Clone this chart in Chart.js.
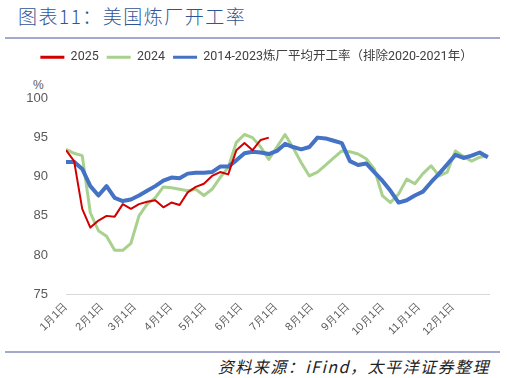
<!DOCTYPE html>
<html>
<head>
<meta charset="utf-8">
<script src="https://cdn.jsdelivr.net/npm/chart.js@4/dist/chart.umd.min.js"></script>
<style>
  html, body { margin: 0; padding: 0; background: #fff; }
  body { width: 507px; height: 378px; position: relative; overflow: hidden; font-family: "Noto Sans CJK SC", "Liberation Sans", sans-serif; }
  #title { position: absolute; left: 18px; top: 2px; font-size: 19px; font-weight: 300; letter-spacing: 1.5px; color: #2F5597; white-space: nowrap; }
  .rule { position: absolute; left: 5px; width: 495px; height: 0; border-top: 2px solid #A3A8CC; }
  #unit { position: absolute; left: 33px; top: 78px; font-size: 12px; color: #595959; font-family: "Liberation Sans", sans-serif; }
  #source { position: absolute; right: 17px; top: 354px; font-size: 16px; font-style: italic; letter-spacing: 1.5px; color: #222; white-space: nowrap; }
  #wrap { position: absolute; left: 0; top: 41px; width: 507px; height: 303px; }
</style>
</head>
<body>
<div id="title">图表11：美国炼厂开工率</div>
<div class="rule" style="top:37px"></div>
<div id="unit">%</div>
<div id="wrap"><canvas id="chart"></canvas></div>
<div class="rule" style="top:351px"></div>
<div id="source">资料来源：iFind，太平洋证券整理</div>

<script>
// weekly points, x = day of year
const weekDays = Array.from({ length: 53 }, (_, i) => i * 7);

const monthStarts = [0, 31, 59, 90, 120, 151, 181, 212, 243, 273, 304, 334];
const monthLabels = ['1月1日', '2月1日', '3月1日', '4月1日', '5月1日', '6月1日',
  '7月1日', '8月1日', '9月1日', '10月1日', '11月1日', '12月1日'];

const rate2025 = [93.4, 92.0, 85.9, 83.5, 84.4, 85.0, 84.9, 86.5, 85.9, 86.5, 86.8, 87.0, 86.1,
  86.7, 86.4, 88.0, 88.7, 89.1, 90.1, 90.6, 90.3, 93.4, 94.3, 93.4, 94.7, 95.0];

const rate2024 = [93.5, 93.0, 92.7, 85.4, 83.1, 82.4, 80.6, 80.6, 81.5, 85.0, 86.5, 87.3, 88.7,
  88.6, 88.4, 88.2, 88.4, 87.6, 88.4, 89.9, 91.2, 94.4, 95.4, 95.0, 93.8, 92.2, 93.8,
  95.4, 93.7, 91.8, 90.1, 90.6, 91.5, 92.4, 93.3, 93.2, 92.9, 92.3, 91.0, 87.6, 86.7,
  87.8, 89.7, 89.1, 90.4, 91.4, 90.1, 90.6, 93.3, 92.6, 92.0, 92.5, 92.7];

const rateAvg = [91.9, 91.9, 91.0, 88.8, 87.6, 88.8, 87.3, 86.9, 87.1, 87.6, 88.2, 88.8, 89.5,
  89.9, 89.8, 90.4, 90.5, 90.5, 90.6, 91.3, 91.3, 92.1, 93.0, 93.2, 93.1, 92.9, 93.3,
  94.2, 93.8, 93.5, 93.8, 95.0, 94.9, 94.6, 94.3, 92.0, 91.5, 91.7, 90.6, 89.5, 88.2,
  86.7, 87.0, 87.6, 88.1, 89.3, 90.4, 91.6, 92.8, 92.4, 92.7, 93.1, 92.5];

const toPoints = arr => arr.map((v, i) => ({ x: weekDays[i], y: v }));

const textColor = '#595959';

// leave room between the legend and the plot for the "%" label
const legendGap = {
  id: 'legendGap',
  beforeInit(chart) {
    const fit = chart.legend.fit;
    chart.legend.fit = function () {
      fit.call(this);
      this.height += 25;
    };
  },
};

new Chart(document.getElementById('chart'), {
  type: 'line',
  data: {
    datasets: [
      { label: '2025', data: toPoints(rate2025), borderColor: '#D00000', borderWidth: 2, order: 1 },
      { label: '2024', data: toPoints(rate2024), borderColor: '#A9D18E', borderWidth: 3, order: 3 },
      { label: '2014-2023炼厂平均开工率（排除2020-2021年）', data: toPoints(rateAvg), borderColor: '#4472C4', borderWidth: 4, order: 2 },
    ],
  },
  options: {
    responsive: true,
    maintainAspectRatio: false,
    animation: false,
    layout: { padding: { left: 24, right: 18, top: 2, bottom: 0 } },
    elements: { point: { radius: 0 }, line: { tension: 0, borderJoinStyle: 'round' } },
    plugins: {
      tooltip: { enabled: false },
      legend: {
        position: 'top',
        labels: {
          color: '#404040',
          font: { size: 12.5, family: 'Roboto, "Noto Sans CJK SC", sans-serif' },
          usePointStyle: true,
          pointStyle: 'line',
          pointStyleWidth: 24,
          padding: 8,
          sort: (a, b) => a.datasetIndex - b.datasetIndex,
          generateLabels: chart => Chart.defaults.plugins.legend.labels.generateLabels(chart)
            .map(l => ({ ...l, lineWidth: 3 })),
        },
      },
    },
    scales: {
      x: {
        type: 'linear',
        min: 0,
        max: 365,
        grid: { display: false, drawTicks: false },
        border: { color: '#D9D9D9', width: 1 },
        afterBuildTicks: scale => { scale.ticks = monthStarts.map(v => ({ value: v })); },
        ticks: {
          color: textColor,
          font: { size: 11 },
          padding: 6,
          maxRotation: 45,
          minRotation: 45,
          autoSkip: false,
          callback: v => monthLabels[monthStarts.indexOf(v)],
        },
      },
      y: {
        min: 75,
        max: 100,
        grid: { display: false, drawTicks: false },
        border: { display: false },
        afterFit: scale => { scale.width = 42; },
        ticks: { stepSize: 5, color: textColor, font: { size: 13 }, padding: 18 },
      },
    },
  },
  plugins: [legendGap],
});
</script>
</body>
</html>
